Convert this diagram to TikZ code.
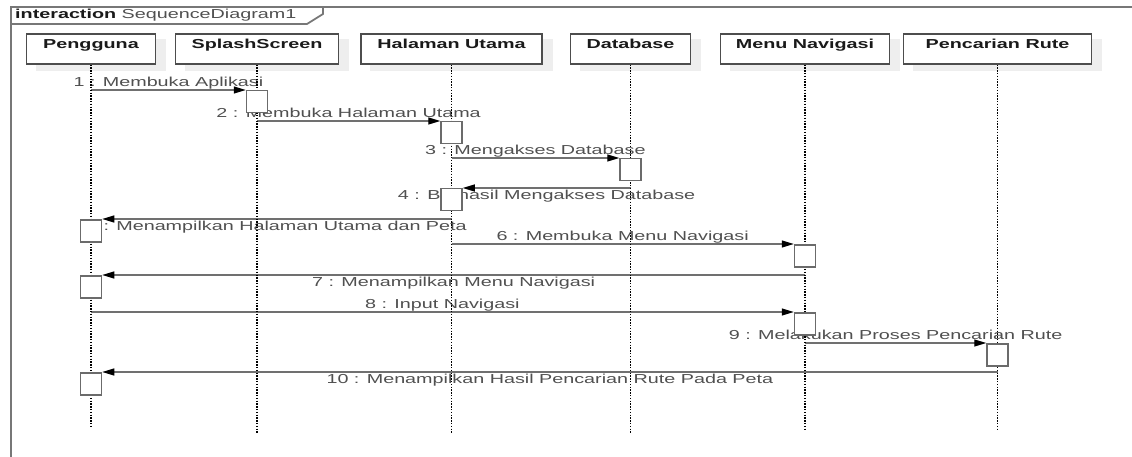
\documentclass[tikz,border=0pt]{standalone}
\usepackage{fontspec}
\setmainfont{Liberation Sans}[FakeStretch=1.52]
\usetikzlibrary{arrows.meta}

\definecolor{frameline}{HTML}{777777}
\definecolor{hdrline}{HTML}{4D4D4D}
\definecolor{actline}{HTML}{6B6B6B}
\definecolor{msgline}{HTML}{707070}
\definecolor{lbltxt}{HTML}{505050}
\definecolor{titletxt}{HTML}{1A1A1A}
\definecolor{shadowc}{HTML}{EEEEEE}

\pgfdeclarelayer{shade}
\pgfdeclarelayer{words}
\pgfdeclarelayer{lines}
\pgfsetlayers{shade,words,lines,main}

\newcommand{\txtsize}{\fontsize{13}{15}\selectfont}

\tikzset{
  frame/.style={draw=frameline, line width=1.8pt},
  hdr/.style={draw=hdrline, fill=white, line width=1.1pt, minimum height=30pt,
    inner sep=0pt, text height=8.5pt, text depth=9.5pt,
    font=\bfseries\txtsize, text=titletxt},
  act/.style={draw=actline, fill=white, line width=1.5pt, minimum width=21pt,
    minimum height=22pt, inner sep=0pt, anchor=north},
  msg/.style={draw=msgline, line width=1.1pt,
    -{Triangle[length=12pt,width=7pt,color=black,fill=black]}},
  lbl/.style={font=\txtsize, text=lbltxt, anchor=base, inner sep=0pt},
  callLbl/.style={lbl, midway, yshift=3.5pt},
  retLbl/.style={lbl, midway, yshift=-11.5pt},
  life/.style={line width=1.3pt, dash pattern=on 1.4pt off 1.4pt}
}

\begin{document}
\begin{tikzpicture}[x=1pt, y=-1pt]
\useasboundingbox (0,0) rectangle (1132,457);

% interaction frame and its name tag
\draw[frame] (11,457) -- (11,7) -- (1132,7);
\draw[frame] (11,24) -- (307,24) -- (323,14) -- (323,7);
\node[anchor=base west, inner sep=0pt, font=\txtsize, text=titletxt] (title) at (15,19)
  {\textbf{interaction} \textcolor{lbltxt}{SequenceDiagram1}};

% lifeline heads
\node[hdr, minimum width=129pt] (pengguna) at (91,49)   {Pengguna};
\node[hdr, minimum width=163pt] (splash)   at (257,49)  {SplashScreen};
\node[hdr, minimum width=181pt] (halaman)  at (451.5,49){Halaman Utama};
\node[hdr, minimum width=120pt] (database) at (630.5,49){Database};
\node[hdr, minimum width=169pt] (menu)     at (805,49)  {Menu Navigasi};
\node[hdr, minimum width=188pt] (rute)     at (997.5,49){Pencarian Rute};

% soft shadows behind the heads
\begin{pgfonlayer}{shade}
\foreach \h in {pengguna,splash,halaman,database,menu,rute}
  \fill[shadowc] ([shift={(10,6)}]\h.south west) rectangle ([shift={(10,6)}]\h.north east);
\end{pgfonlayer}

% lifeline ends
\coordinate (pengguna-end) at (91,427);
\coordinate (splash-end)   at (257,433);
\coordinate (halaman-end)  at (451.5,433);
\coordinate (database-end) at (630.5,433);
\coordinate (menu-end)     at (805,431);
\coordinate (rute-end)     at (997.5,431);

\begin{pgfonlayer}{lines}
\foreach \h in {pengguna,splash,halaman,database,menu,rute}
  \draw[life] (\h) -- (\h-end);
\end{pgfonlayer}

% activations
\node[act] (a1)  at (257,90)    {};
\node[act] (a2)  at (451.5,121) {};
\node[act] (a3)  at (630.5,158) {};
\node[act] (a4)  at (451.5,188) {};
\node[act] (a5)  at (91,219)    {};
\node[act] (a6)  at (805,244)   {};
\node[act] (a7)  at (91,275)    {};
\node[act] (a8)  at (805,312)   {};
\node[act] (a9)  at (997.5,343) {};
\node[act] (a10) at (91,372)    {};

% messages
\begin{pgfonlayer}{words}
\draw[msg] (pengguna |- a1.north) -- (a1.north west)
  node[callLbl] {1 : Membuka Aplikasi};
\draw[msg] (splash |- a2.north) -- (a2.north west)
  node[callLbl] {2 : Membuka Halaman Utama};
\draw[msg] (halaman |- a3.north) -- (a3.north west)
  node[callLbl] {3 : Mengakses Database};
\draw[msg] (database |- a4.north) -- (a4.north east)
  node[retLbl] {4 : Berhasil Mengakses Database};
\draw[msg] (halaman |- a5.north) -- (a5.north east)
  node[retLbl] {5 : Menampilkan Halaman Utama dan Peta};
\draw[msg] (halaman |- a6.north) -- (a6.north west)
  node[callLbl] {6 : Membuka Menu Navigasi};
\draw[msg] (menu |- a7.north) -- (a7.north east)
  node[retLbl] {7 : Menampilkan Menu Navigasi};
\draw[msg] (pengguna |- a8.north) -- (a8.north west)
  node[callLbl] {8 : Input Navigasi};
\draw[msg] (menu |- a9.north) -- (a9.north west)
  node[callLbl] {9 : Melakukan Proses Pencarian Rute};
\draw[msg] (rute |- a10.north) -- (a10.north east)
  node[retLbl] {10 : Menampilkan Hasil Pencarian Rute Pada Peta};
\end{pgfonlayer}

\end{tikzpicture}
\end{document}
